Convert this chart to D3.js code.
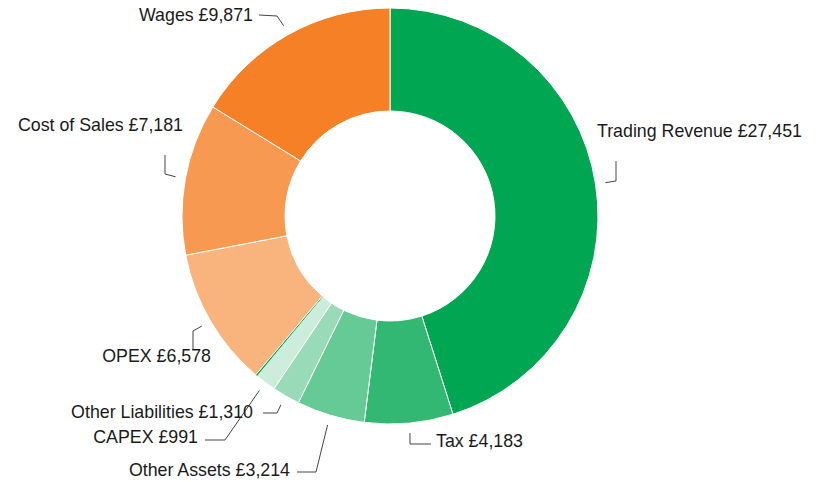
<!DOCTYPE html>
<html>
<head>
<meta charset="utf-8">
<script src="https://cdn.jsdelivr.net/npm/d3@7"></script>
<style>
  body { margin: 0; background: #fff; }
  text { font-family: "Liberation Sans", Arial, sans-serif; }
</style>
</head>
<body>
<svg id="chart" width="825" height="482"></svg>
<script>
// data
var categories = ["Trading Revenue", "Tax", "Other Assets", "Other Liabilities", "CAPEX", "Other", "OPEX", "Cost of Sales", "Wages"];
var values = [27451, 4183, 3214, 1310, 991, 80, 6578, 7181, 9871];
var colours = ["#00a651", "#33b874", "#66ca97", "#99dbb9", "#cceddc", "#00a651", "#f9b37c", "#f79951", "#f58025"];
var showLabel = [true, true, true, true, true, false, true, true, true];

// label placement (bend point, line end, text anchor point)
var labelLayout = {
  "Trading Revenue":   { bend: [616, 181], end: [616, 161], text: [597, 131], anchor: "start" },
  "Tax":               { bend: [410, 444], end: [431, 444], text: [436, 441], anchor: "start" },
  "Other Assets":      { bend: [316, 472], end: [297, 472], text: [290, 470], anchor: "end" },
  "Other Liabilities": { bend: [277, 413], end: [263, 413], text: [253, 412], anchor: "end" },
  "CAPEX":             { bend: [225, 440], end: [205, 440], text: [198, 437], anchor: "end" },
  "OPEX":              { bend: [193, 331], end: [193, 350], text: [211, 356], anchor: "end" },
  "Cost of Sales":     { bend: [165, 174], end: [165, 155], text: [183, 125], anchor: "end" },
  "Wages":             { bend: [277, 16],  end: [259, 15],  text: [253, 15],  anchor: "end" }
};

var svg = d3.select("#chart"),
    cx = 390, cy = 216,
    outerR = 208, innerR = 105;

var rows = categories.map(function(c, i) {
  return { name: c, value: values[i], colour: colours[i], label: showLabel[i] };
});

var pie = d3.pie().sort(null).value(function(d) { return d.value; });
var arc = d3.arc().innerRadius(innerR).outerRadius(outerR);
var arcs = pie(rows);

var g = svg.append("g").attr("transform", "translate(" + cx + "," + cy + ")");

g.selectAll("path.slice")
  .data(arcs)
  .enter().append("path")
  .attr("class", "slice")
  .attr("d", arc)
  .attr("fill", function(d) { return d.data.colour; })
  .attr("stroke", function(d) { return d.data.label ? "#fff" : "none"; })
  .attr("stroke-width", 1);

var fmt = d3.format(",");
var labelled = arcs.filter(function(d) { return d.data.label; });

// leader lines start just outside the ring at the slice's mid angle
svg.append("g").selectAll("polyline")
  .data(labelled)
  .enter().append("polyline")
  .attr("fill", "none")
  .attr("stroke", "#444")
  .attr("stroke-width", 1)
  .attr("points", function(d) {
    var a = (d.startAngle + d.endAngle) / 2,
        r = outerR + 10,
        sx = cx + r * Math.sin(a),
        sy = cy - r * Math.cos(a),
        L = labelLayout[d.data.name];
    return [[sx, sy], L.bend, L.end].map(function(p) { return p.join(","); }).join(" ");
  });

svg.append("g").selectAll("text")
  .data(labelled)
  .enter().append("text")
  .attr("x", function(d) { return labelLayout[d.data.name].text[0]; })
  .attr("y", function(d) { return labelLayout[d.data.name].text[1]; })
  .attr("dy", "0.35em")
  .attr("text-anchor", function(d) { return labelLayout[d.data.name].anchor; })
  .attr("font-size", "17.8px")
  .attr("fill", "#1a1a1a")
  .text(function(d) { return d.data.name + " £" + fmt(d.data.value); });
</script>
</body>
</html>
